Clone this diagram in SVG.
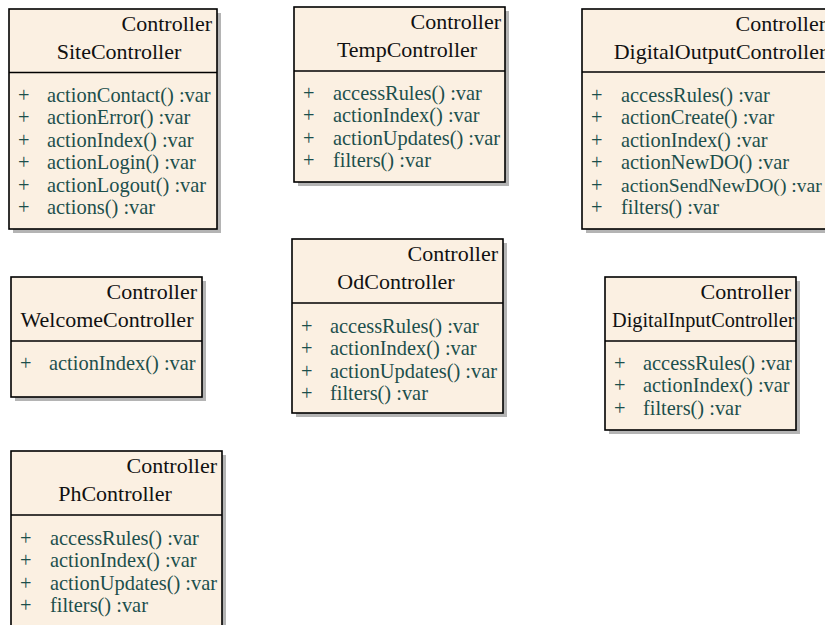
<svg xmlns="http://www.w3.org/2000/svg" width="825" height="625" viewBox="0 0 825 625">
  <style>
    .shadow { fill: #b4b4b4; }
    .box { fill: #fbf0e2; stroke: #000; stroke-width: 1.6; }
    .div { stroke: #000; stroke-width: 1.6; }
    .stereo { font-family: "Liberation Serif", serif; font-size: 22px; fill: #111; text-anchor: end; }
    .name { font-family: "Liberation Serif", serif; font-size: 22px; fill: #111; text-anchor: middle; }
    .mem { font-family: "Liberation Serif", serif; font-size: 20.4px; fill: #1c4f4c; }
  </style>
  <defs>
    <clipPath id="clipDI"><rect x="605" y="277" width="191" height="153"/></clipPath>
  </defs>
  <rect width="825" height="625" fill="#fff"/>

  <g id="SiteController">
    <rect class="shadow" x="13" y="13" width="208" height="220"/>
    <rect class="box" x="9" y="9" width="208" height="220"/>
    <line class="div" x1="9" y1="72.5" x2="217" y2="72.5"/>
    <text class="stereo" x="212" y="30.5">Controller</text>
    <text class="name" x="119" y="59">SiteController</text>
    <g class="mem">
      <text x="18" y="102">+</text><text x="47" y="102">actionContact() :var</text>
      <text x="18" y="124.4">+</text><text x="47" y="124.4">actionError() :var</text>
      <text x="18" y="146.8">+</text><text x="47" y="146.8">actionIndex() :var</text>
      <text x="18" y="169.2">+</text><text x="47" y="169.2">actionLogin() :var</text>
      <text x="18" y="191.6">+</text><text x="47" y="191.6">actionLogout() :var</text>
      <text x="18" y="214">+</text><text x="47" y="214">actions() :var</text>
    </g>
  </g>

  <g id="TempController">
    <rect class="shadow" x="298" y="11" width="211" height="175"/>
    <rect class="box" x="294" y="7" width="211" height="175"/>
    <line class="div" x1="294" y1="71" x2="505" y2="71"/>
    <text class="stereo" x="501" y="28.5">Controller</text>
    <text class="name" x="407" y="57">TempController</text>
    <g class="mem">
      <text x="303" y="100">+</text><text x="333" y="100">accessRules() :var</text>
      <text x="303" y="122.4">+</text><text x="333" y="122.4">actionIndex() :var</text>
      <text x="303" y="144.8">+</text><text x="333" y="144.8">actionUpdates() :var</text>
      <text x="303" y="167.2">+</text><text x="333" y="167.2">filters() :var</text>
    </g>
  </g>

  <g id="DigitalOutputController">
    <rect class="shadow" x="586" y="13" width="250" height="220"/>
    <rect class="box" x="582" y="9" width="250" height="220"/>
    <line class="div" x1="582" y1="72" x2="832" y2="72"/>
    <text class="stereo" x="826" y="30.5">Controller</text>
    <text class="name" x="720" y="59">DigitalOutputController</text>
    <g class="mem">
      <text x="591" y="102">+</text><text x="621" y="102">accessRules() :var</text>
      <text x="591" y="124.4">+</text><text x="621" y="124.4">actionCreate() :var</text>
      <text x="591" y="146.8">+</text><text x="621" y="146.8">actionIndex() :var</text>
      <text x="591" y="169.2">+</text><text x="621" y="169.2">actionNewDO() :var</text>
      <text x="591" y="191.6">+</text><text x="621" y="191.6" style="font-size:19.6px">actionSendNewDO() :var</text>
      <text x="591" y="214">+</text><text x="621" y="214">filters() :var</text>
    </g>
  </g>

  <g id="WelcomeController">
    <rect class="shadow" x="15" y="281" width="191" height="120"/>
    <rect class="box" x="11" y="277" width="191" height="120"/>
    <line class="div" x1="11" y1="341" x2="202" y2="341"/>
    <text class="stereo" x="197" y="299">Controller</text>
    <text class="name" x="107" y="327">WelcomeController</text>
    <g class="mem">
      <text x="20" y="370">+</text><text x="49" y="370">actionIndex() :var</text>
    </g>
  </g>

  <g id="OdController">
    <rect class="shadow" x="296" y="243" width="211" height="174"/>
    <rect class="box" x="292" y="239" width="211" height="174"/>
    <line class="div" x1="292" y1="303" x2="503" y2="303"/>
    <text class="stereo" x="498" y="260.5">Controller</text>
    <text class="name" x="396" y="289">OdController</text>
    <g class="mem">
      <text x="301" y="333">+</text><text x="330" y="333">accessRules() :var</text>
      <text x="301" y="355.4">+</text><text x="330" y="355.4">actionIndex() :var</text>
      <text x="301" y="377.8">+</text><text x="330" y="377.8">actionUpdates() :var</text>
      <text x="301" y="400.2">+</text><text x="330" y="400.2">filters() :var</text>
    </g>
  </g>

  <g id="DigitalInputController">
    <rect class="shadow" x="609" y="281" width="191" height="153"/>
    <rect class="box" x="605" y="277" width="191" height="153"/>
    <line class="div" x1="605" y1="341" x2="796" y2="341"/>
    <text class="stereo" x="791" y="299">Controller</text>
    <text x="612" y="327" clip-path="url(#clipDI)" style="font-family:'Liberation Serif',serif;font-size:20.3px;fill:#111">DigitalInputController</text>
    <g class="mem">
      <text x="614" y="370">+</text><text x="643" y="370">accessRules() :var</text>
      <text x="614" y="392.4">+</text><text x="643" y="392.4">actionIndex() :var</text>
      <text x="614" y="414.8">+</text><text x="643" y="414.8">filters() :var</text>
    </g>
  </g>

  <g id="PhController">
    <rect class="shadow" x="15" y="455" width="211" height="180"/>
    <rect class="box" x="11" y="451" width="211" height="180"/>
    <line class="div" x1="11" y1="515" x2="222" y2="515"/>
    <text class="stereo" x="217" y="472.5">Controller</text>
    <text class="name" x="115" y="501">PhController</text>
    <g class="mem">
      <text x="20" y="545">+</text><text x="50" y="545">accessRules() :var</text>
      <text x="20" y="567.4">+</text><text x="50" y="567.4">actionIndex() :var</text>
      <text x="20" y="589.8">+</text><text x="50" y="589.8">actionUpdates() :var</text>
      <text x="20" y="612.2">+</text><text x="50" y="612.2">filters() :var</text>
    </g>
  </g>

  <g id="connectors"></g>
</svg>
